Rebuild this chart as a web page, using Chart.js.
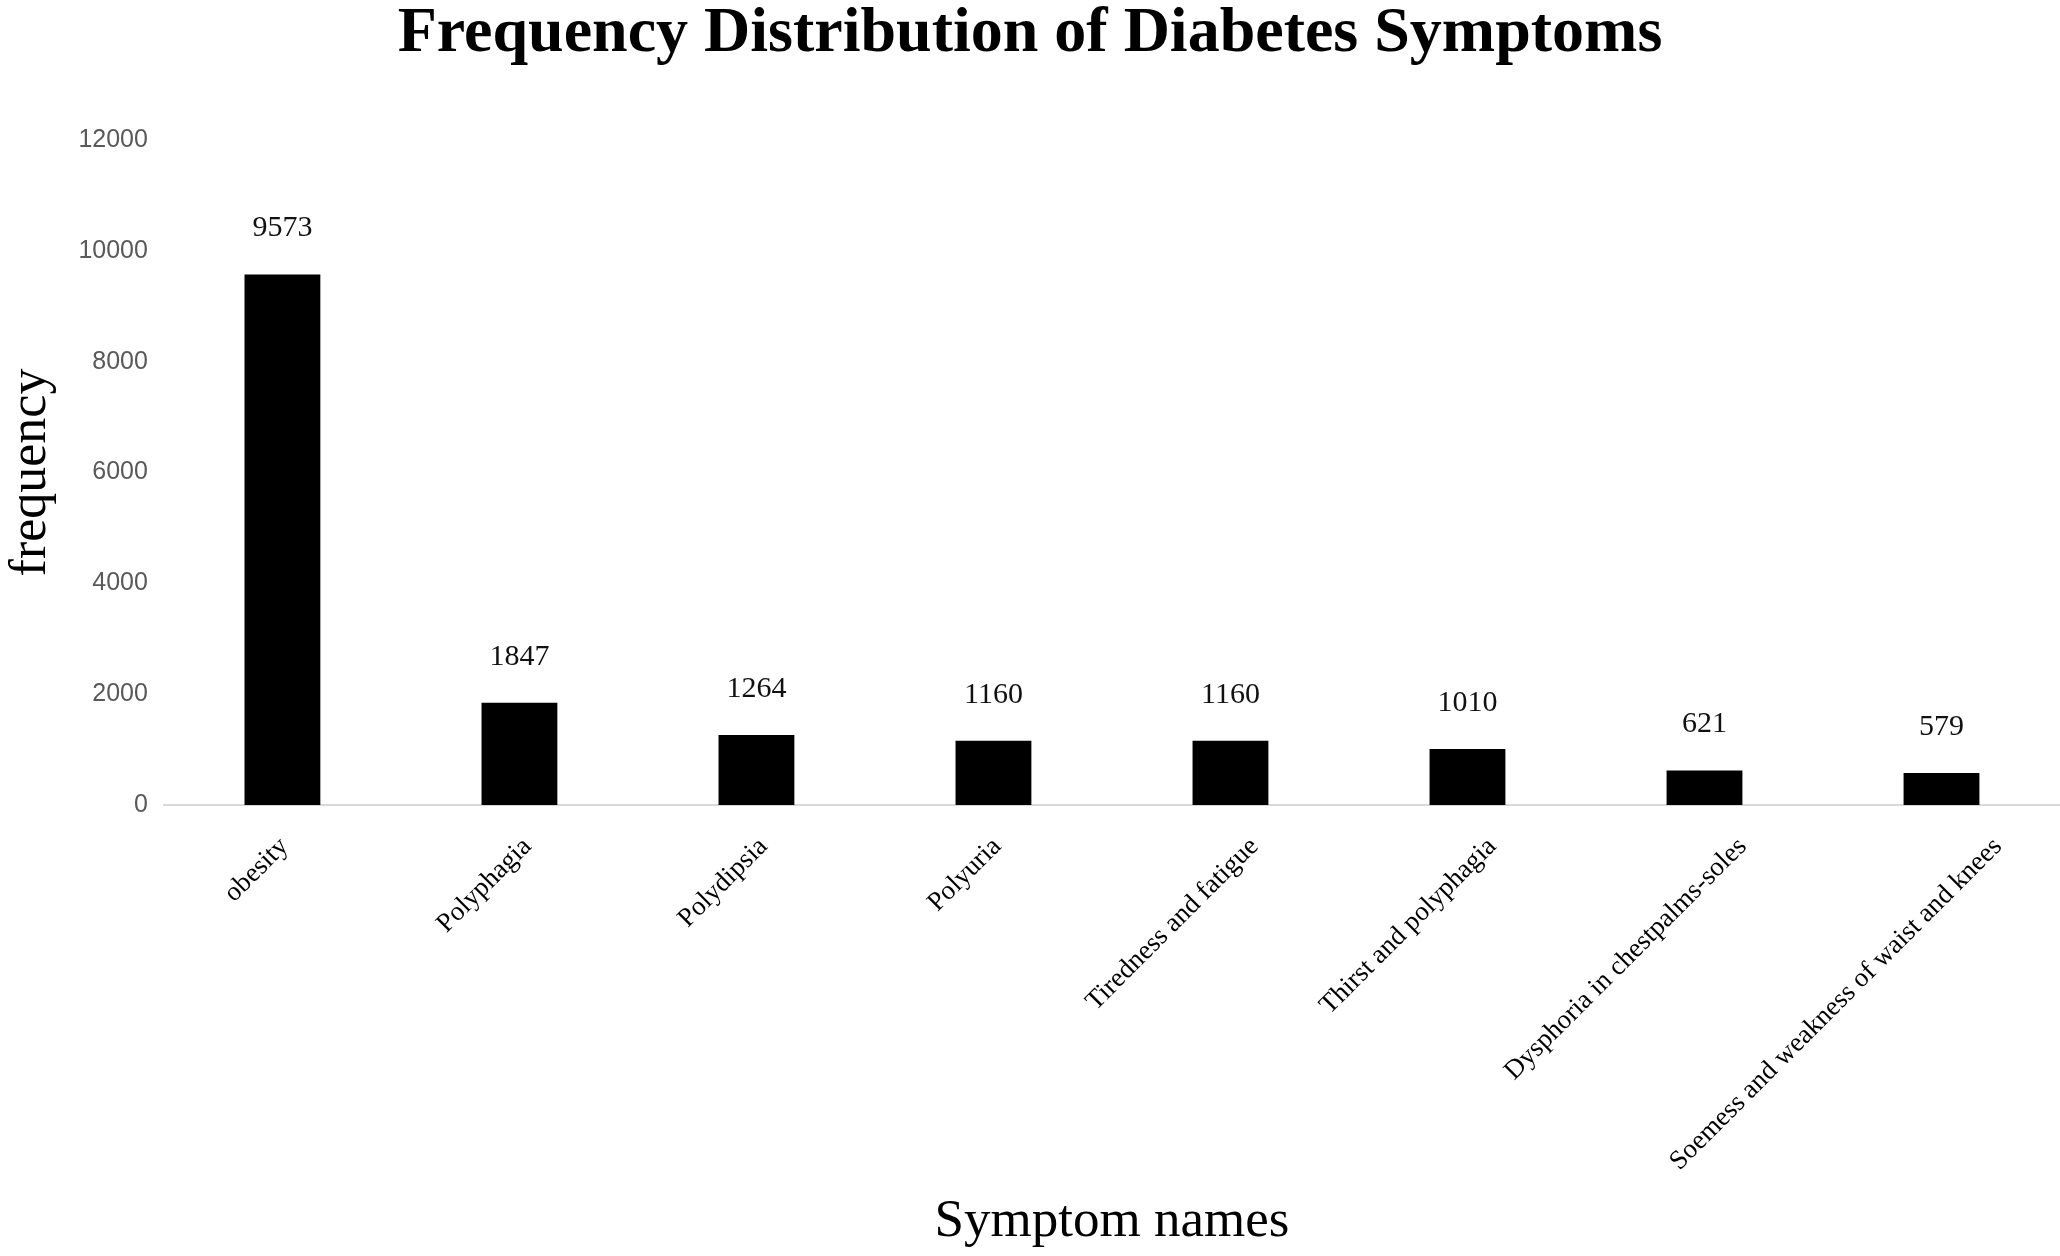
<!DOCTYPE html>
<html>
<head>
<meta charset="utf-8">
<title>Frequency Distribution of Diabetes Symptoms</title>
<script src="https://cdn.jsdelivr.net/npm/chart.js@4/dist/chart.umd.min.js"></script>
<style>
  html, body { margin: 0; padding: 0; background: #ffffff; }
  #wrap { width: 2060px; height: 1256px; position: relative; }
</style>
</head>
<body>
<div id="wrap"><canvas id="symptomChart"></canvas></div>
<script>
// Data
const symptoms = [
    'obesity',
    'Polyphagia',
    'Polydipsia',
    'Polyuria',
    'Tiredness and fatigue',
    'Thirst and polyphagia',
    'Dysphoria in chestpalms-soles',
    'Soemess and weakness of waist and knees'
];
const frequencies = [9573, 1847, 1264, 1160, 1160, 1010, 621, 579];
const yTicks = [0, 2000, 4000, 6000, 8000, 10000, 12000];

const serif = '"Liberation Serif", "Times New Roman", serif';

// Numbers above the bars
const valueLabels = {
    id: 'valueLabels',
    afterDatasetsDraw(chart) {
        const ctx = chart.ctx;
        const meta = chart.getDatasetMeta(0);
        ctx.save();
        ctx.font = '30px ' + serif;
        ctx.fillStyle = '#111111';
        ctx.textAlign = 'center';
        ctx.textBaseline = 'middle';
        meta.data.forEach((bar, i) => {
            ctx.fillText(String(frequencies[i]), bar.x, bar.y - 46);
        });
        ctx.restore();
    }
};

// Category names at 45 degrees, placed the way the spreadsheet chart does it
// (longer names reach further right of their tick)
const slantedLabels = {
    id: 'slantedLabels',
    afterDraw(chart) {
        const ctx = chart.ctx;
        const xScale = chart.scales.x;
        ctx.save();
        ctx.font = '27px ' + serif;
        ctx.fillStyle = '#000000';
        ctx.textAlign = 'right';
        ctx.textBaseline = 'top';
        symptoms.forEach((name, i) => {
            const w = ctx.measureText(name).width;
            const x = xScale.getPixelForTick(i) - 11 + 0.144 * w - 8;
            const y = xScale.top + 28;
            ctx.save();
            ctx.translate(x, y);
            ctx.rotate(-Math.PI / 4);
            ctx.fillText(name, 0, 0);
            ctx.restore();
        });
        ctx.restore();
    }
};

const ctx = document.getElementById('symptomChart').getContext('2d');
const symptomChart = new Chart(ctx, {
    type: 'bar',
    data: {
        labels: symptoms,
        datasets: [{
            label: 'frequency',
            data: frequencies,
            backgroundColor: '#000000',
            borderWidth: 0,
            categoryPercentage: 1.0,
            barPercentage: 0.32
        }]
    },
    options: {
        responsive: true,
        maintainAspectRatio: false,
        devicePixelRatio: 1,
        animation: false,
        layout: { padding: 0 },
        plugins: {
            legend: { display: false },
            tooltip: { enabled: false },
            title: {
                display: true,
                text: 'Frequency Distribution of Diabetes Symptoms',
                color: '#000000',
                font: { family: serif, size: 64, weight: 'bold', lineHeight: 1.0 },
                padding: { top: 2, bottom: 74 }
            }
        },
        scales: {
            x: {
                grid: { display: false, drawTicks: false },
                border: { display: true, color: '#d9d9d9', width: 2 },
                ticks: { display: false },
                afterFit(scale) {
                    // room for the slanted names and the axis title
                    scale.height = 451;
                },
                title: {
                    display: true,
                    text: 'Symptom names',
                    color: '#000000',
                    font: { family: serif, size: 53, lineHeight: 1.2 },
                    padding: { top: 6, bottom: 2 }
                }
            },
            y: {
                min: 0,
                max: 12000,
                afterBuildTicks(scale) {
                    scale.ticks = yTicks.map(v => ({ value: v }));
                },
                grid: { display: false, drawTicks: false },
                border: { display: false },
                ticks: {
                    color: '#595959',
                    padding: 16,
                    font: { family: '"Liberation Sans", Arial, sans-serif', size: 25 },
                    callback: (value) => String(value)
                },
                title: {
                    display: true,
                    text: 'frequency',
                    color: '#000000',
                    font: { family: serif, size: 52, lineHeight: 1.2 },
                    padding: { top: 0, bottom: 0 }
                }
            }
        }
    },
    plugins: [valueLabels, slantedLabels]
});
</script>
</body>
</html>
